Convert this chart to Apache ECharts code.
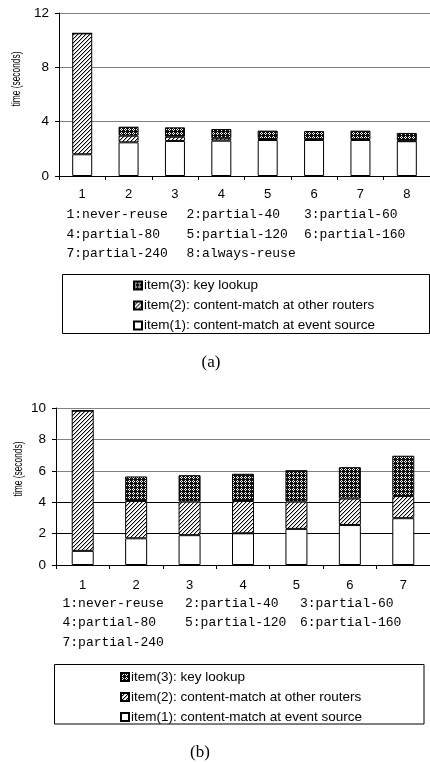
<!DOCTYPE html>
<html><head><meta charset="utf-8">
<script src="https://cdn.jsdelivr.net/npm/echarts@6/dist/echarts.min.js"></script>
<style>html,body{margin:0;padding:0;background:#fff}#c{width:430px;height:763px}</style>
</head><body><div id="c"></div>
<script>
// ---------- data ----------
const categoriesA = ['1', '2', '3', '4', '5', '6', '7', '8'];
const item1A = [1.6, 2.48, 2.58, 2.6, 2.65, 2.65, 2.65, 2.56];
const item2A = [8.9, 0.49, 0.31, 0.18, 0.07, 0.05, 0.05, 0.04];
const item3A = [0, 0.66, 0.69, 0.68, 0.62, 0.61, 0.64, 0.57];

const categoriesB = ['1', '2', '3', '4', '5', '6', '7'];
const item1B = [0.9, 1.7, 1.9, 2.02, 2.3, 2.55, 2.98];
const item2B = [8.93, 2.38, 2.14, 2.06, 1.74, 1.68, 1.42];
const item3B = [0, 1.56, 1.68, 1.73, 2.0, 2.0, 2.56];

const seriesNames = [
  'item(1): content-match at event source',
  'item(2): content-match at other routers',
  'item(3): key lookup'
];
const schemeNamesA = ['1:never-reuse', '2:partial-40', '3:partial-60', '4:partial-80',
  '5:partial-120', '6:partial-160', '7:partial-240', '8:always-reuse'];
const schemeNamesB = ['1:never-reuse', '2:partial-40', '3:partial-60', '4:partial-80',
  '5:partial-120', '6:partial-160', '7:partial-240'];
const yAxisA = { min: 0, max: 12, interval: 4 };
const yAxisB = { min: 0, max: 10, interval: 2 };
const yAxisTitle = 'time (seconds)';
const captions = ['(a)', '(b)'];

// ---------- patterns ----------
function makePattern(size, draw) {
  const c = document.createElement('canvas');
  c.width = size; c.height = size;
  const ctx = c.getContext('2d');
  draw(ctx, size);
  return { image: c, repeat: 'repeat' };
}
const whiteFill = '#ffffff';
const hatchFill = makePattern(4, (ctx, n) => {
  ctx.fillStyle = '#fff'; ctx.fillRect(0, 0, n, n);
  ctx.fillStyle = '#000';
  for (let i = 0; i < n; i++) ctx.fillRect(i, n - 1 - i, 1, 1);
  ctx.fillStyle = '#bbb';
  for (let i = 0; i < n; i++) ctx.fillRect(i, (n - i) % n, 1, 1);
});
const dotFill = makePattern(4, (ctx, n) => {
  ctx.fillStyle = '#111'; ctx.fillRect(0, 0, n, n);
  ctx.fillStyle = '#fff';
  ctx.fillRect(1, 0, 1, 1); ctx.fillRect(0, 1, 1, 1); ctx.fillRect(2, 1, 1, 1); ctx.fillRect(1, 2, 1, 1);
});
const fills = [whiteFill, hatchFill, dotFill];

// ---------- chart ----------
const font = 'Liberation Sans';
const chart = echarts.init(document.getElementById('c'), null, { renderer: 'canvas' });

function barSeries(idx, data, axis, stack, width) {
  return {
    name: seriesNames[idx], type: 'bar', stack: stack,
    xAxisIndex: axis, yAxisIndex: axis, barWidth: width,
    data: data, silent: true,
    itemStyle: { color: fills[idx], borderColor: '#000', borderWidth: 1 },
    emphasis: { disabled: true }
  };
}

function xAxisCfg(cats, gridIndex, margin) {
  return {
    type: 'category', gridIndex: gridIndex, data: cats,
    axisLine: { lineStyle: { color: '#000', width: 1 } },
    axisTick: { show: true, length: 4, lineStyle: { color: '#000' } },
    axisLabel: { color: '#000', fontFamily: font, fontSize: 13, margin: margin }
  };
}
function yAxisCfg(range, gridIndex, splitColors) {
  return {
    type: 'value', gridIndex: gridIndex, min: range.min, max: range.max, interval: range.interval,
    axisLine: { show: true, lineStyle: { color: '#000', width: 1 } },
    axisTick: { show: true, length: 4, lineStyle: { color: '#000' } },
    axisLabel: { color: '#000', fontFamily: font, fontSize: 13.5, margin: 10 },
    splitLine: { show: true, lineStyle: { color: splitColors, width: 1 } }
  };
}

function legendCfg(left, top) {
  return {
    orient: 'vertical', left: left, top: top, padding: 0,
    itemWidth: 8, itemHeight: 8, itemGap: 6, icon: 'rect',
    selectedMode: false,
    data: seriesNames.slice().reverse(),
    textStyle: { color: '#000', fontFamily: font, fontSize: 13.5, lineHeight: 13, padding: [0, 0, 0, -3] }
  };
}

function schemeTexts(names, colX, rowY) {
  return names.map((t, i) => ({
    type: 'text', x: colX[i % 3], y: rowY[Math.floor(i / 3)], silent: true,
    style: { text: t, font: '13px "Liberation Mono"', fill: '#000', textAlign: 'left', textVerticalAlign: 'middle' }
  }));
}

function yTitle(x, y) {
  return { type: 'text', x: x, y: y, rotation: Math.PI / 2, scaleX: 0.62, silent: true,
    style: { text: yAxisTitle, font: '13.5px "Liberation Sans"', fill: '#000', textAlign: 'center', textVerticalAlign: 'middle' } };
}

const graphics = [
  yTitle(16.5, 79),
  yTitle(18, 469),
  ...schemeTexts(schemeNamesA, [66.5, 186.5, 304], [215, 234.5, 254]),
  ...schemeTexts(schemeNamesB, [62.5, 185, 300], [603.5, 623, 642.5]),
  { type: 'rect', shape: { x: 62.5, y: 274.5, width: 367, height: 59 }, silent: true,
    style: { fill: 'none', stroke: '#000', lineWidth: 1 } },
  { type: 'rect', shape: { x: 54.5, y: 664.5, width: 369.5, height: 59.5 }, silent: true,
    style: { fill: 'none', stroke: '#000', lineWidth: 1 } },
  { type: 'text', x: 211, y: 363, silent: true,
    style: { text: captions[0], font: '17px "Liberation Serif"', fill: '#000', textAlign: 'center', textVerticalAlign: 'middle' } },
  { type: 'text', x: 200, y: 753, silent: true,
    style: { text: captions[1], font: '17px "Liberation Serif"', fill: '#000', textAlign: 'center', textVerticalAlign: 'middle' } }
];

chart.setOption({
  animation: false,
  backgroundColor: '#fff',
  grid: [
    { left: 59, top: 13, width: 376, height: 163 },
    { left: 56, top: 408, width: 374, height: 157 }
  ],
  xAxis: [xAxisCfg(categoriesA, 0, 12), xAxisCfg(categoriesB, 1, 14)],
  yAxis: [
    yAxisCfg(yAxisA, 0, ['#808080']),
    yAxisCfg(yAxisB, 1, ['#000', '#000', '#000', '#808080', '#808080', '#808080'])
  ],
  legend: [legendCfg(133, 278.5), legendCfg(120, 670)],
  series: [
    barSeries(0, item1A, 0, 'a', 20),
    barSeries(1, item2A, 0, 'a', 20),
    barSeries(2, item3A, 0, 'a', 20),
    barSeries(0, item1B, 1, 'b', 22),
    barSeries(1, item2B, 1, 'b', 22),
    barSeries(2, item3B, 1, 'b', 22)
  ],
  graphic: graphics
});
</script>
</body></html>
